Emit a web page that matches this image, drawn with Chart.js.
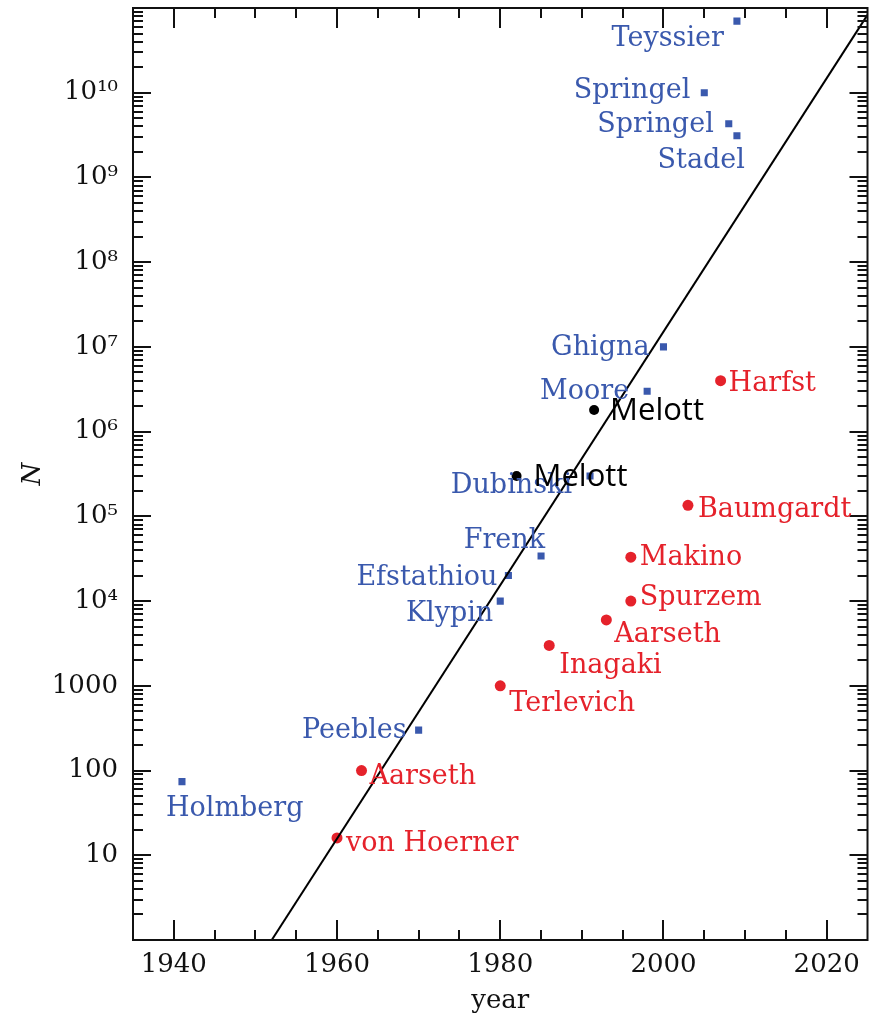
<!DOCTYPE html>
<html><head><meta charset="utf-8">
<script src="https://cdn.jsdelivr.net/npm/chart.js@4"></script>
<style>html,body{margin:0;padding:0;background:#fff}</style>
</head><body>
<canvas id="c" width="873" height="1018"></canvas>
<script>
// ---- data ----
const blueNames = ["Teyssier","Springel","Springel","Stadel","Ghigna","Moore","Dubinski","Frenk","Efstathiou","Klypin","Peebles","Holmberg"];
const blueYears = [2009,2005,2008,2009,2000,1998,1991,1985,1981,1980,1970,1941];
const blueN     = [7e10,1e10,4.3e9,3.1e9,1e7,3e6,3e5,3.4e4,2e4,1e4,300,74];
const redNames  = ["von Hoerner","Aarseth","Terlevich","Inagaki","Aarseth","Spurzem","Makino","Baumgardt","Harfst"];
const redYears  = [1960,1963,1980,1986,1993,1996,1996,2003,2007];
const redN      = [16,100,1000,3000,6000,1e4,3.3e4,1.35e5,4e6];
const blackNames = ["Melott","Melott"];
const blackYears = [1982,1991.5];
const blackN     = [3e5,1.8e6];
const fitYears = [1952,2025];
const fitN     = [1,8.3e10];
const xTicks = [1940,1960,1980,2000,2020];
const yTicks = [10,100,1000,1e4,1e5,1e6,1e7,1e8,1e9,1e10];
const yTickLabels = ["10","100","1000","10\u2074","10\u2075","10\u2076","10\u2077","10\u2078","10\u2079","10\u00b9\u2070"];

// ---- label placement (style, pixels relative to marker) ----
const bluePlace  = [[-13,18,'right'],[-14,-2,'right'],[-15,1,'right'],[8,25,'right'],[-14,1,'right'],[-18,1,'right'],[-18,10,'right'],[4,-15,'right'],[-11,2,'right'],[-7,13,'right'],[-12,1,'right'],[-16,27,'left']];
const redPlace   = [[9,6],[8,6],[9,18],[10,21],[8,15],[9,-3],[9,1],[10,5],[8,3]];
const blackPlace = [[17,1],[16,1]];

const BLUE = '#3a59ad', RED = '#e5222b', BLACK = '#000';
const SERIF = '"DejaVu Serif", serif';

const pts = (xs, ys) => xs.map((v,i)=>({x:v, y:ys[i]}));

const frameTicks = {
  id:'frameTicks',
  afterDatasetsDraw(chart){
    const {ctx, chartArea:a, scales:{x,y}} = chart;
    ctx.save();
    ctx.strokeStyle = '#111'; ctx.lineWidth = 2;
    ctx.strokeRect(a.left, a.top, a.right-a.left, a.bottom-a.top);
    ctx.beginPath();
    for (let v=1940; v<2025; v+=5){
      const px = Math.round(x.getPixelForValue(v));
      const L = v%20===0 ? 20 : 10;
      ctx.moveTo(px, a.bottom); ctx.lineTo(px, a.bottom-L);
      ctx.moveTo(px, a.top); ctx.lineTo(px, a.top+L);
    }
    for (let e=0; e<11; e++){
      for (let m=1; m<10; m++){
        if (e===0 && m===1) continue;
        const py = Math.round(y.getPixelForValue(m*Math.pow(10,e)));
        const L = m===1 ? 18 : 10;
        ctx.moveTo(a.left, py); ctx.lineTo(a.left+L, py);
        ctx.moveTo(a.right, py); ctx.lineTo(a.right-L, py);
      }
    }
    ctx.stroke();
    ctx.restore();
  }
};

const pointLabels = {
  id:'pointLabels',
  afterDatasetsDraw(chart){
    const {ctx, scales:{x,y}} = chart;
    ctx.save();
    ctx.textBaseline = 'middle';
    const draw = (names, xs, ys, place, color, font, defAlign) => {
      ctx.fillStyle = color; ctx.font = font;
      names.forEach((n,i)=>{
        const px = x.getPixelForValue(xs[i]), py = y.getPixelForValue(ys[i]);
        const p = place[i];
        ctx.textAlign = p[2] || defAlign;
        ctx.fillText(n, px+p[0], py+p[1]);
      });
    };
    draw(blueNames, blueYears, blueN, bluePlace, BLUE, '27px '+SERIF, 'right');
    draw(redNames, redYears, redN, redPlace, RED, '27px '+SERIF, 'left');
    draw(blackNames, blackYears, blackN, blackPlace, BLACK, '31px "Open Sans", sans-serif', 'left');
    ctx.restore();
  }
};

new Chart(document.getElementById('c'), {
  type:'scatter',
  data:{datasets:[
    {type:'line', data:pts(fitYears, fitN), showLine:true, borderColor:'#000', borderWidth:2, pointRadius:0, fill:false, tension:0},
    {data:pts(blueYears, blueN), pointStyle:'rect', pointRadius:5, backgroundColor:BLUE, borderWidth:0},
    {data:pts(redYears, redN), pointStyle:'circle', pointRadius:5.5, backgroundColor:RED, borderWidth:0},
    {data:pts(blackYears, blackN), pointStyle:'circle', pointRadius:5, backgroundColor:BLACK, borderWidth:0}
  ]},
  options:{
    responsive:false, animation:false, devicePixelRatio:1,
    layout:{padding:{left:0, right:0, top:8, bottom:0}},
    plugins:{legend:{display:false}, tooltip:{enabled:false}},
    scales:{
      x:{type:'linear', min:1935, max:2025,
        afterBuildTicks:s=>{ s.ticks = xTicks.map(v=>({value:v})); },
        afterFit:s=>{ s.height = 78; s.paddingLeft = 0; s.paddingRight = 0; },
        grid:{display:false, drawTicks:false}, border:{display:false},
        ticks:{font:{family:SERIF, size:26}, color:'#111', padding:10, maxRotation:0, autoSkip:false,
          callback:v=>String(v)},
        title:{display:true, text:'year', font:{family:SERIF, size:26}, color:'#111', padding:{top:0,bottom:1}}
      },
      y:{type:'logarithmic', min:1, max:1e11,
        afterBuildTicks:s=>{ s.ticks = yTicks.map(v=>({value:v})); },
        afterFit:s=>{ s.width = 133; s.paddingTop = 0; s.paddingBottom = 0; },
        grid:{display:false, drawTicks:false}, border:{display:false},
        ticks:{font:{family:SERIF, size:26}, color:'#111', padding:15, autoSkip:false,
          callback:(v,i)=>yTickLabels[i]},
        title:{display:true, text:'N', font:{family:SERIF, size:26, style:'italic'}, color:'#111', padding:{top:18,bottom:0}}
      }
    }
  },
  plugins:[frameTicks, pointLabels]
});
</script>
</body></html>
